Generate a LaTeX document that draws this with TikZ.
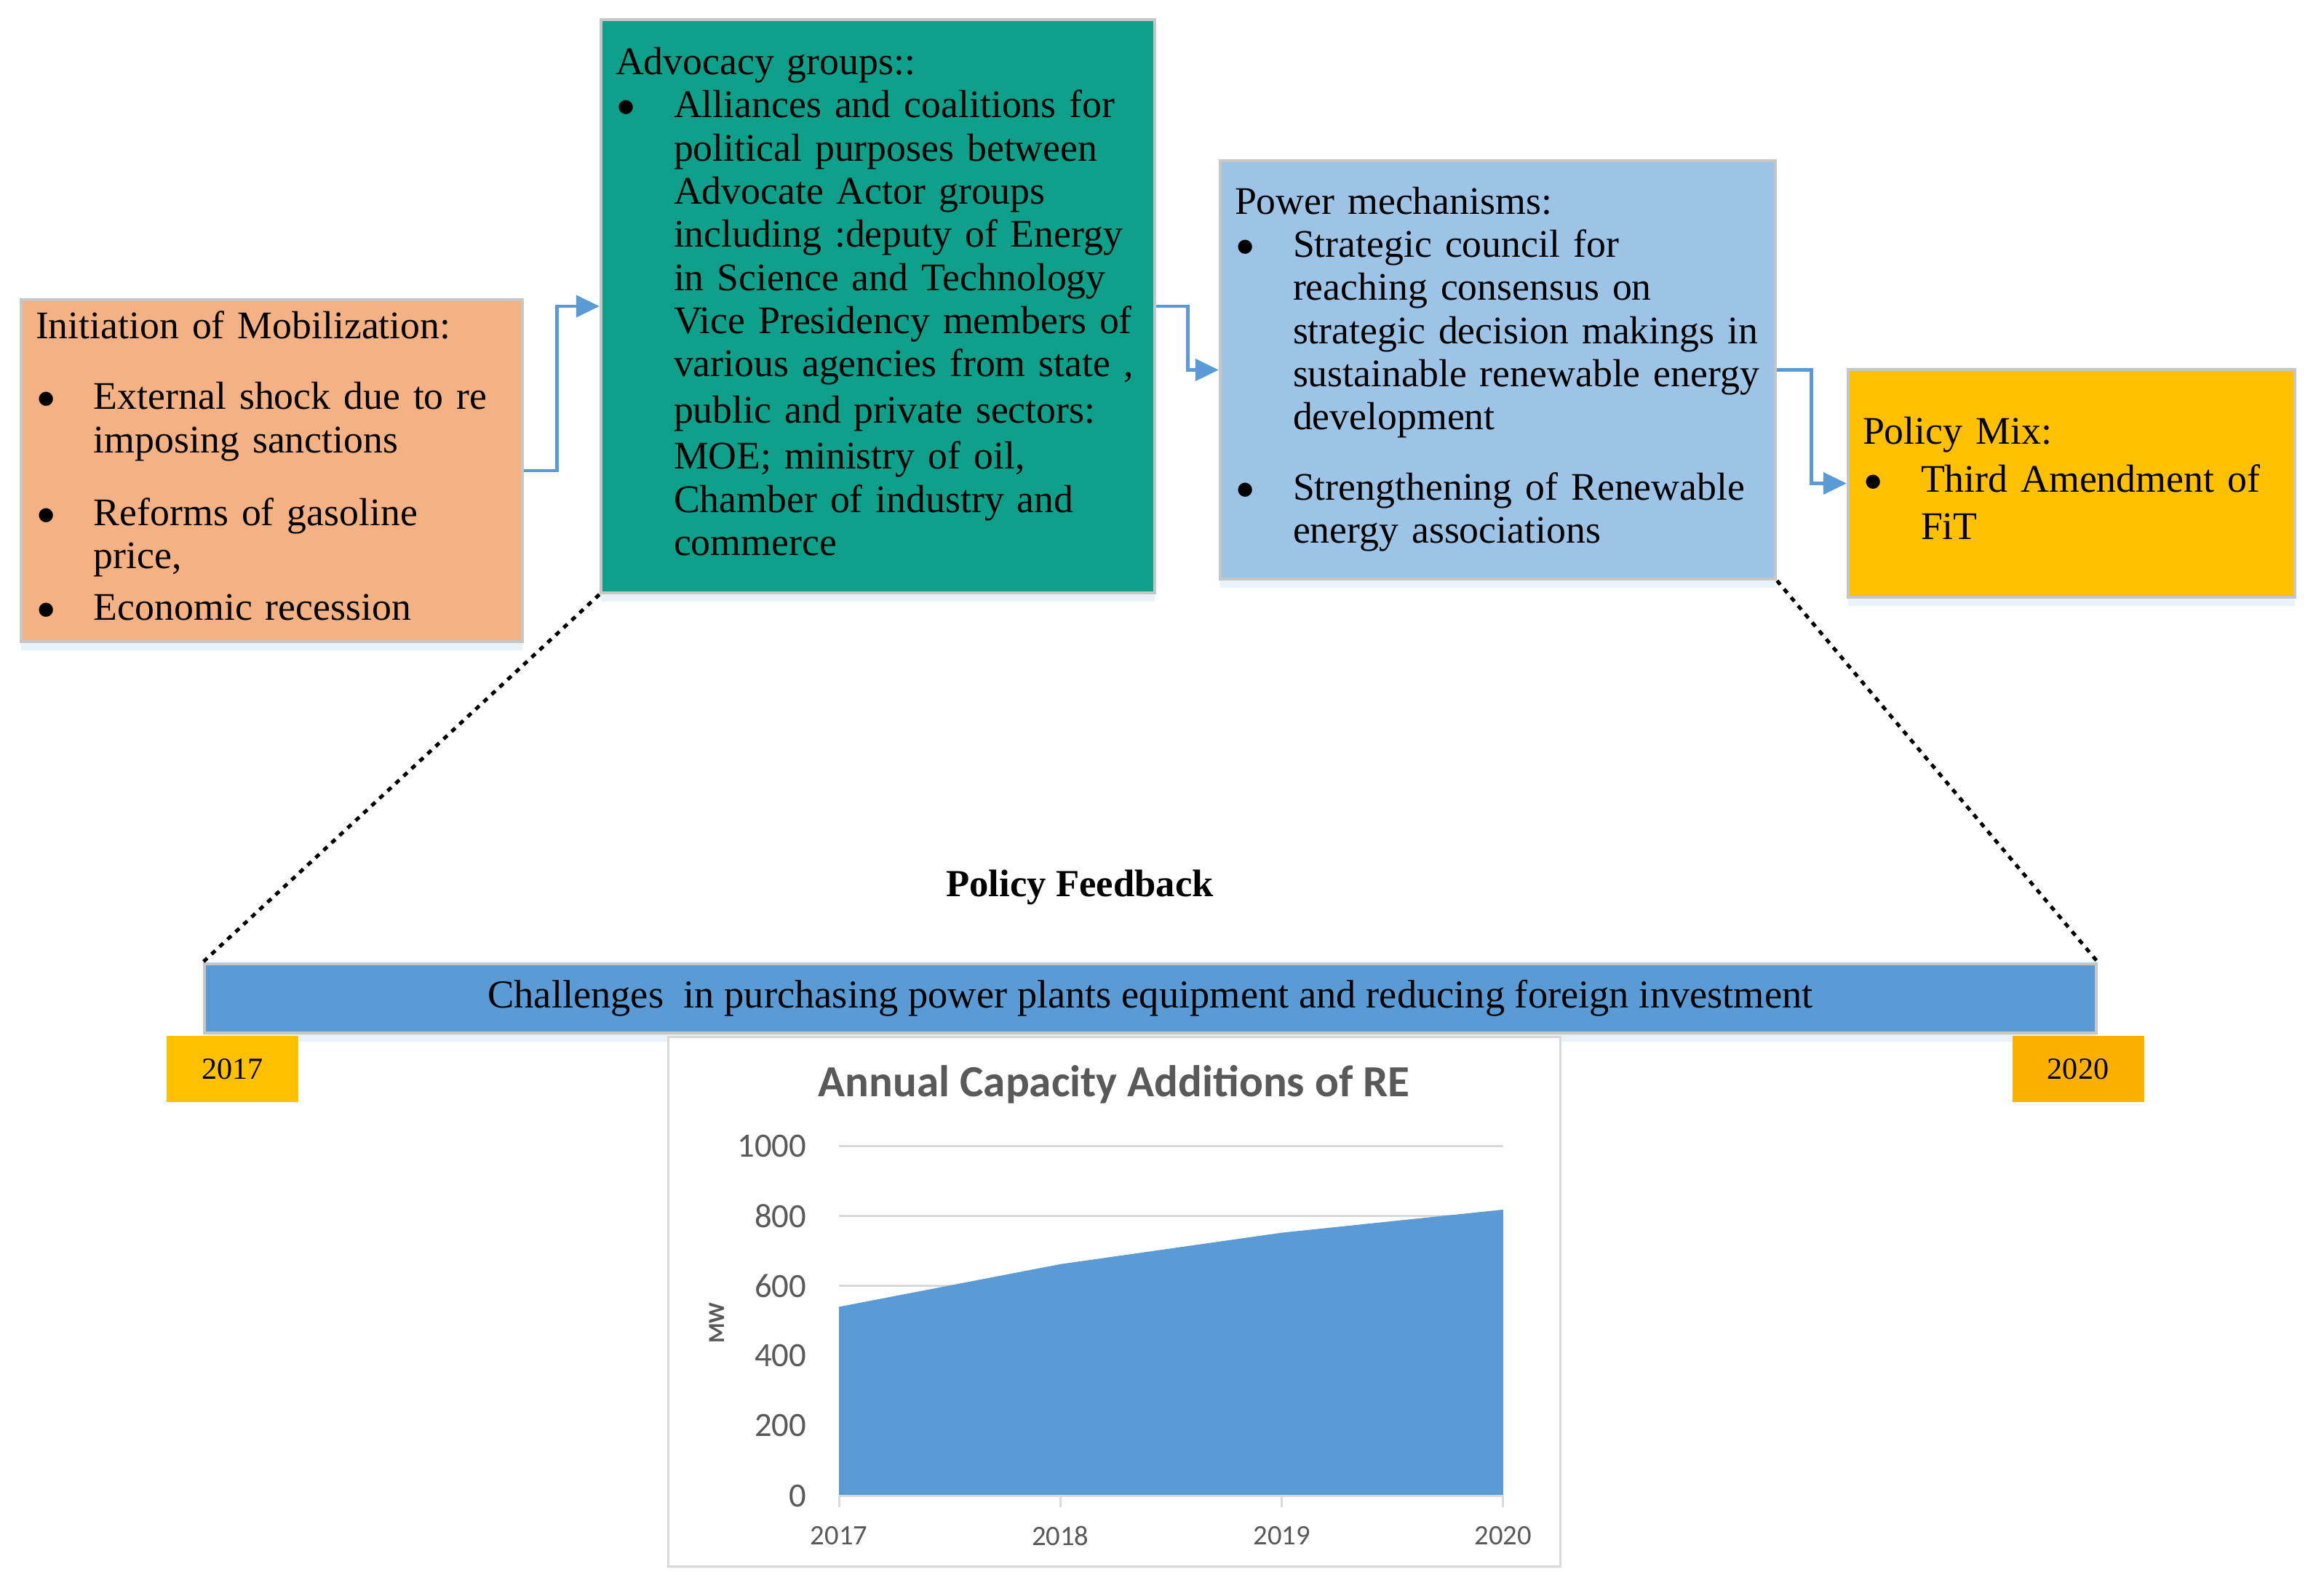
\documentclass[tikz,border=0pt]{standalone}
\usepackage{fontspec}
\setmainfont{Liberation Serif}
\newfontfamily\chartfont{Carlito}
\usetikzlibrary{arrows.meta, shadows}

\definecolor{peach}{HTML}{F4B183}
\definecolor{advteal}{HTML}{0EA08A}
\definecolor{powerblue}{HTML}{9DC3E6}
\definecolor{mixgold}{HTML}{FFC000}
\definecolor{lategold}{HTML}{FBB000}
\definecolor{barblue}{HTML}{5B9BD5}
\definecolor{edgegray}{HTML}{C6C6C6}
\definecolor{gridgray}{HTML}{D9D9D9}
\definecolor{labelgray}{HTML}{595959}
\definecolor{shadowblue}{HTML}{E4EDF7}

\newcommand{\itemlist}[1]{\begin{tabular}{@{}p{0.8cm}@{}l@{}}#1\end{tabular}}
\newcommand{\heading}[1]{\multicolumn{2}{@{}l@{}}{#1}}
\newcommand{\dotmark}{\raisebox{-3.6pt}{\fontsize{23}{16.9}\selectfont\textbullet}}

\begin{document}
\begin{tikzpicture}
            [>={Triangle[length=0.32cm,width=0.30cm]},
             box/.style={draw=edgegray, line width=0.045cm, inner xsep=0.2cm, inner ysep=0cm, align=left,
                         font=\fontsize{15.3}{16.9}\selectfont,
                         drop shadow={shadow xshift=0cm, shadow yshift=-0.12cm, fill=shadowblue, opacity=0.8}},
             yearbox/.style={minimum width=1.81cm, minimum height=0.91cm, inner sep=0cm, font=\fontsize{12}{14}\selectfont},
             flow/.style={->, draw=barblue, line width=0.045cm},
             link/.style={draw=black, line width=0.05cm, dash pattern=on 0.07cm off 0.08cm},
             gridline/.style={draw=gridgray, line width=0.03cm},
             ylab/.style={font=\chartfont\fontsize{13.3}{15}\selectfont, text=labelgray, anchor=east, inner sep=0cm},
             xlab/.style={font=\chartfont\fontsize{11}{13}\selectfont, text=labelgray, inner sep=0cm}]
            \useasboundingbox (0, 0) rectangle (31.83, -21.93);

            \node[box, fill=peach, minimum width=6.89cm, minimum height=4.70cm, text width=6.49cm] (init) at (3.735, -6.47)
                {\itemlist{\heading{Initiation of Mobilization:}\\[0.38cm]
                 \dotmark & External shock due to re\\
                          & imposing sanctions\\[0.41cm]
                 \dotmark & Reforms of gasoline\\
                          & price,\\[0.11cm]
                 \dotmark & Economic recession}};
            \node[box, fill=advteal, minimum width=7.61cm, minimum height=7.88cm, text width=7.21cm] (adv) at (12.065, -4.21)
                {\itemlist{\heading{Advocacy groups::}\\
                 \dotmark & Alliances and coalitions for\\
                          & political purposes between\\
                          & Advocate Actor groups\\
                          & including :deputy of Energy\\
                          & in Science and Technology\\
                          & Vice Presidency members of\\
                          & various agencies from state ,\\[0.04cm]
                          & public and private sectors:\\[0.04cm]
                          & MOE; ministry of oil,\\
                          & Chamber of industry and\\
                          & commerce}};
            \node[box, fill=powerblue, minimum width=7.63cm, minimum height=5.75cm, text width=7.23cm] (power) at (20.585, -5.085)
                {\itemlist{\heading{Power mechanisms:}\\
                 \dotmark & Strategic council for\\
                          & reaching consensus on\\
                          & strategic decision makings in\\
                          & sustainable renewable energy\\
                          & development\\[0.37cm]
                 \dotmark & Strengthening of Renewable\\
                          & energy associations}};
            \node[box, fill=mixgold, minimum width=6.14cm, minimum height=3.13cm, text width=5.74cm] (mix) at (28.47, -6.645)
                {\itemlist{\heading{Policy Mix:}\\[0.06cm]
                 \dotmark & Third Amendment of\\[0.06cm]
                          & FiT}};

            \node[font=\bfseries\fontsize{15}{18}\selectfont] (fbtitle) at (14.84, -12.20) {Policy Feedback};
            \node[box, fill=barblue, align=center, font=\fontsize{15.5}{16.9}\selectfont, minimum width=26.0cm, minimum height=0.95cm] (bar) at (15.81, -13.725)
                {Challenges~ in purchasing power plants equipment and reducing foreign investment};
            \node[yearbox, fill=mixgold] (y2017) at (3.195, -14.695) {2017};
            \node[yearbox, fill=lategold] (y2020) at (28.56, -14.695) {2020};

            \draw [flow] (init.east) -- ++(0.45, 0) |- (adv.west);
            \draw [flow] (adv.east) -- ++(0.43, 0) |- (power.west);
            \draw [flow] (power.east) -- ++(0.47, 0) |- (mix.west);
            \draw [link] (adv.south west) -- (bar.north west);
            \draw [link] (power.south east) -- (bar.north east);

            \node[draw=gridgray, line width=0.03cm, fill=white, minimum width=12.26cm, minimum height=7.28cm] (chart) at (15.31, -17.89) {};
            \node[font=\chartfont\bfseries\fontsize{17.4}{20}\selectfont, text=labelgray] (ctitle) at (15.31, -14.91) {Annual Capacity Additions of RE};
            \begin{scope}[shift={(11.53, -20.56)}, x=3.043cm, y=0.0048cm]
                \foreach \v in {200, 400, ..., 1000}
                    \draw [gridline] (0, \v) -- (3, \v);
                \fill [barblue] (0, 0) -- (0, 540) -- (1, 662) -- (2, 752) -- (3, 818) -- (3, 0) -- cycle;
                \draw [gridline] (0, 0) -- (3, 0);
                \foreach \v in {0, 200, ..., 1000}
                    \node[ylab] (tick\v) at ([xshift=-0.44cm] 0, \v) {\v};
                \foreach \yr [count=\i from 0] in {2017, 2018, 2019, 2020} {
                    \draw [gridline] (\i, 0) -- ([yshift=-0.16cm] \i, 0);
                    \node[xlab] (year\yr) at ([yshift=-0.55cm] \i, 0) {\yr};
                }
                \node[font=\chartfont\bfseries\fontsize{9}{11}\selectfont, text=labelgray, rotate=90] (unit) at ([xshift=-1.68cm] 0, 494) {MW};
            \end{scope}
        \end{tikzpicture}
\end{document}
